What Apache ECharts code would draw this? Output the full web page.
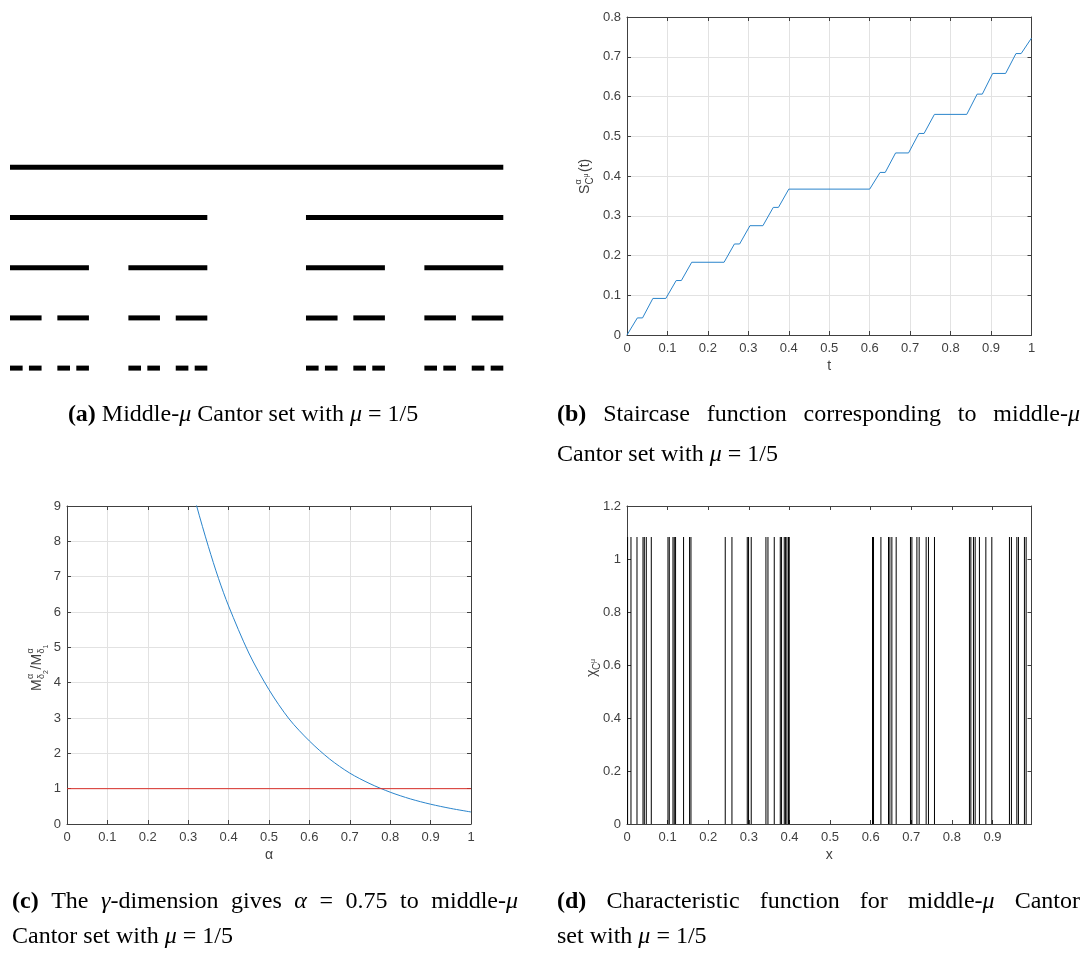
<!DOCTYPE html>
<html><head><meta charset="utf-8">
<script src="https://cdn.jsdelivr.net/npm/echarts@6/dist/echarts.min.js"></script>
<style>html,body{margin:0;padding:0;background:#fff}#c{width:1082px;height:953px}</style>
</head><body><div id="c"></div>
<script>
// ---- (a) Middle-mu Cantor set, mu = 1/5: intervals per level ----
const cantorLevel1 = [[0, 1]];
const cantorLevel2 = [[0, 0.4], [0.6, 1]];
const cantorLevel3 = [[0, 0.16], [0.24, 0.4], [0.6, 0.76], [0.84, 1]];
const cantorLevel4 = [[0, 0.064], [0.096, 0.16], [0.24, 0.304], [0.336, 0.4],
  [0.6, 0.664], [0.696, 0.76], [0.84, 0.904], [0.936, 1]];
const cantorLevel5 = [[0, 0.0256], [0.0384, 0.064], [0.096, 0.1216], [0.1344, 0.16],
  [0.24, 0.2656], [0.2784, 0.304], [0.336, 0.3616], [0.3744, 0.4],
  [0.6, 0.6256], [0.6384, 0.664], [0.696, 0.7216], [0.7344, 0.76],
  [0.84, 0.8656], [0.8784, 0.904], [0.936, 0.9616], [0.9744, 1]];
const cantorLevels = [cantorLevel1, cantorLevel2, cantorLevel3, cantorLevel4, cantorLevel5];

// ---- (b) staircase function ----
const stairT = [0, 0.0256, 0.0384, 0.064, 0.096, 0.1216, 0.1344, 0.16, 0.24, 0.2656, 0.2784, 0.304,
  0.336, 0.3616, 0.3744, 0.4, 0.6, 0.6256, 0.6384, 0.664, 0.696, 0.7216, 0.7344, 0.76,
  0.84, 0.8656, 0.8784, 0.904, 0.936, 0.9616, 0.9744, 1];
const stairS = [0, 0.043, 0.043, 0.092, 0.092, 0.137, 0.137, 0.183, 0.183, 0.229, 0.229, 0.275,
  0.275, 0.321, 0.321, 0.367, 0.367, 0.409, 0.409, 0.458, 0.458, 0.507, 0.507, 0.555,
  0.555, 0.606, 0.606, 0.658, 0.658, 0.708, 0.708, 0.747];
const stairXTicks = { min: 0, max: 1, interval: 0.1 };
const stairYTicks = { min: 0, max: 0.8, interval: 0.1 };

// ---- (c) ratio curve and reference line ----
const alphaX = [0.30, 0.321, 0.35, 0.375, 0.40, 0.45, 0.50, 0.55, 0.60, 0.65, 0.70, 0.75, 0.80, 0.85, 0.90, 0.95, 1.00];
const ratioY = [10.0, 9.0, 7.85, 6.95, 6.17, 4.84, 3.8, 2.97, 2.35, 1.84, 1.44, 1.14, 0.9, 0.71, 0.56, 0.44, 0.34];
const refLineX = [0, 1];
const refLineY = [1, 1];
const ratioXTicks = { min: 0, max: 1, interval: 0.1 };
const ratioYTicks = { min: 0, max: 9, interval: 1 };

// ---- (d) characteristic function: vertical line positions ----
const chiX = [0.0015, 0.0098, 0.0246, 0.0394, 0.0426, 0.0475, 0.0598,
  0.1009, 0.1041, 0.1132, 0.1164, 0.1196, 0.1393, 0.1541, 0.1575,
  0.2419, 0.2584, 0.2961, 0.2993, 0.3059, 0.3421, 0.3471, 0.3626, 0.3774, 0.3806,
  0.3872, 0.3905, 0.3938, 0.3977, 0.3995,
  0.6045, 0.607, 0.6252, 0.6439, 0.6473, 0.6522, 0.6628, 0.698, 0.7015, 0.7138,
  0.7194, 0.7366, 0.7423, 0.7571, 0.8432, 0.8467, 0.8531, 0.8573, 0.8678, 0.8836,
  0.8983, 0.9417, 0.9466, 0.9599, 0.9638, 0.9786, 0.9828];
const chiHeight = 1.083;
const chiXTicks = { min: 0, max: 0.996, interval: 0.1 };
const chiYTicks = { min: 0, max: 1.2, interval: 0.2 };

// ================= layout / styling =================
const AX = '#404040';
const GRIDC = '#e2e2e2';
const TICKFONT = 'Liberation Sans';
const BLUE = '#2a84cb';

function bottomAxis(g, t, grid, name, showMax) {
  return { type: 'value', gridIndex: g, position: 'bottom', min: t.min, max: t.max, interval: t.interval,
    axisLine: { show: true, onZero: false, lineStyle: { color: AX, width: 1 } },
    axisTick: { show: true, inside: true, length: 4, lineStyle: { color: AX } },
    axisLabel: { show: true, color: AX, fontSize: 13, fontFamily: TICKFONT, margin: 7, showMaxLabel: showMax },
    splitLine: { show: grid, lineStyle: { color: GRIDC, width: 1 } },
    name: name, nameLocation: 'middle', nameGap: 24,
    nameTextStyle: { color: AX, fontSize: 14, fontFamily: TICKFONT } };
}
function topAxis(g, t) {
  return { type: 'value', gridIndex: g, position: 'top', min: t.min, max: t.max, interval: t.interval,
    axisLine: { show: true, onZero: false, lineStyle: { color: AX, width: 1 } },
    axisTick: { show: true, inside: true, length: 4, lineStyle: { color: AX } },
    axisLabel: { show: false }, splitLine: { show: false } };
}
function leftAxis(g, t, grid) {
  return { type: 'value', gridIndex: g, position: 'left', min: t.min, max: t.max, interval: t.interval,
    axisLine: { show: true, onZero: false, lineStyle: { color: AX, width: 1 } },
    axisTick: { show: true, inside: true, length: 4, lineStyle: { color: AX } },
    axisLabel: { show: true, color: AX, fontSize: 13, fontFamily: TICKFONT, margin: 6 },
    splitLine: { show: grid, lineStyle: { color: GRIDC, width: 1 } } };
}
function rightAxis(g, t) {
  return { type: 'value', gridIndex: g, position: 'right', min: t.min, max: t.max, interval: t.interval,
    axisLine: { show: true, onZero: false, lineStyle: { color: AX, width: 1 } },
    axisTick: { show: true, inside: true, length: 4, lineStyle: { color: AX } },
    axisLabel: { show: false }, splitLine: { show: false } };
}

// data built from arrays
const cantorData = [];
cantorLevels.forEach((lvl, i) => lvl.forEach(seg => cantorData.push([seg[0], seg[1], i + 1])));
const stairData = stairT.map((t, i) => [t, stairS[i]]);
const ratioData = alphaX.map((a, i) => [a, ratioY[i]]);
const refData = refLineX.map((a, i) => [a, refLineY[i]]);
const chiData = chiX.map(x => [x, chiHeight]);

// ---------- captions ----------
const FS = 24;
const SERIF = 'Liberation Serif';
const mctx = document.createElement('canvas').getContext('2d');
function fontStr(r) { return (r.i ? 'italic ' : '') + (r.b ? 'bold ' : '') + FS + 'px "' + SERIF + '"'; }
function measure(r) { mctx.font = fontStr(r); return mctx.measureText(r.t).width; }
function R(t, b, i) { return { t: t, b: !!b, i: !!i }; }
function captionLine(words, x0, y, opt) {
  const ww = words.map(w => w.reduce((s, r) => s + measure(r), 0));
  const total = ww.reduce((a, b) => a + b, 0);
  let gap = measure(R(' '));
  let x = x0;
  if (opt && opt.justifyTo) gap = (opt.justifyTo - x0 - total) / (words.length - 1);
  if (opt && opt.center !== undefined) x = opt.center - (total + gap * (words.length - 1)) / 2;
  const els = [];
  words.forEach(w => {
    w.forEach(r => {
      els.push({ type: 'text', x: x, y: y, silent: true,
        style: { text: r.t, fontSize: FS, fontFamily: SERIF, fontWeight: r.b ? 'bold' : 'normal',
          fontStyle: r.i ? 'italic' : 'normal', fill: '#000', verticalAlign: 'middle', align: 'left' } });
      x += measure(r);
    });
    x += gap;
  });
  return els;
}
const mu = R('μ', false, true);
const tailWords = [[R('Cantor')], [R('set')], [R('with')], [mu], [R('=')], [R('1/5')]];
const captions = [].concat(
  captionLine([[R('(a)', true)], [R('Middle-'), mu]].concat(tailWords), 0, 415, { center: 243 }),
  captionLine([[R('(b)', true)], [R('Staircase')], [R('function')], [R('corresponding')], [R('to')], [R('middle-'), mu]], 557, 415, { justifyTo: 1080 }),
  captionLine(tailWords, 557, 455),
  captionLine([[R('(c)', true)], [R('The')], [R('γ', false, true), R('-dimension')], [R('gives')], [R('α', false, true)], [R('=')], [R('0.75')], [R('to')], [R('middle-'), mu]], 12, 902, { justifyTo: 518 }),
  captionLine(tailWords, 12, 937),
  captionLine([[R('(d)', true)], [R('Characteristic')], [R('function')], [R('for')], [R('middle-'), mu], [R('Cantor')]], 557, 902, { justifyTo: 1080 }),
  captionLine([[R('set')], [R('with')], [mu], [R('=')], [R('1/5')]], 557, 937)
);

// ---------- rotated y-axis names ----------
function T(t, x, y, fs) {
  return { type: 'text', x: x, y: y, silent: true,
    style: { text: t, fontSize: fs, fontFamily: TICKFONT, fill: AX, verticalAlign: 'middle', align: 'left' } };
}
const yNames = [
  { type: 'group', x: 585, y: 173, rotation: Math.PI / 2, children: [
    T('S', -21, 0, 14), T('α', -11.5, -6, 9), T('C', -11.5, 5, 10), T('μ', -4.5, 1.5, 7), T('(t)', 1, 0, 14) ] },
  { type: 'group', x: 37, y: 667, rotation: Math.PI / 2, children: [
    T('M', -24, 0, 14), T('α', -12, -6, 9), T('δ', -12, 5, 9), T('2', -7, 9, 7), T('/', -2.5, 0, 14),
    T('M', 1.5, 0, 14), T('α', 13.5, -6, 9), T('δ', 13.5, 5, 9), T('1', 18.5, 9, 7) ] },
  { type: 'group', x: 592, y: 668, rotation: Math.PI / 2, children: [
    T('χ', -9, 0, 14), T('C', -2, 5, 10), T('μ', 5, 1.5, 7) ] }
];

const chart = echarts.init(document.getElementById('c'), null, { renderer: 'canvas' });
chart.setOption({
  animation: false,
  backgroundColor: '#fff',
  grid: [
    { left: 10, top: 167.3, width: 493.3, height: 200.8 },
    { left: 627, top: 17, width: 404.5, height: 318 },
    { left: 67, top: 506, width: 404, height: 318 },
    { left: 627, top: 506, width: 404.5, height: 318 }
  ],
  xAxis: [
    { type: 'value', gridIndex: 0, min: 0, max: 1, show: false },
    bottomAxis(1, stairXTicks, true, 't', true), topAxis(1, stairXTicks),
    bottomAxis(2, ratioXTicks, true, 'α', true), topAxis(2, ratioXTicks),
    bottomAxis(3, chiXTicks, false, 'x', false), topAxis(3, chiXTicks)
  ],
  yAxis: [
    { type: 'value', gridIndex: 0, min: 1, max: 5, inverse: true, show: false },
    leftAxis(1, stairYTicks, true), rightAxis(1, stairYTicks),
    leftAxis(2, ratioYTicks, true), rightAxis(2, ratioYTicks),
    leftAxis(3, chiYTicks, false), rightAxis(3, chiYTicks)
  ],
  series: [
    { type: 'custom', xAxisIndex: 0, yAxisIndex: 0, data: cantorData, encode: { x: [0, 1], y: 2 },
      renderItem: function (params, api) {
        const s = api.coord([api.value(0), api.value(2)]);
        const e = api.coord([api.value(1), api.value(2)]);
        return { type: 'rect', shape: { x: s[0], y: s[1] - 2.5, width: e[0] - s[0], height: 5 },
          style: { fill: '#000' } };
      } },
    { type: 'line', xAxisIndex: 1, yAxisIndex: 1, data: stairData, showSymbol: false, symbol: 'none',
      lineStyle: { color: BLUE, width: 1 }, clip: true },
    { type: 'line', xAxisIndex: 3, yAxisIndex: 3, data: ratioData, showSymbol: false, symbol: 'none',
      smooth: 0.3, lineStyle: { color: BLUE, width: 1 }, clip: true },
    { type: 'line', xAxisIndex: 3, yAxisIndex: 3, data: refData, showSymbol: false, symbol: 'none',
      lineStyle: { color: '#d9302a', width: 1 } },
    { type: 'custom', xAxisIndex: 5, yAxisIndex: 5, data: chiData, encode: { x: 0, y: 1 },
      renderItem: function (params, api) {
        const b = api.coord([api.value(0), 0]);
        const t = api.coord([api.value(0), api.value(1)]);
        return { type: 'line', shape: { x1: b[0], y1: b[1], x2: t[0], y2: t[1] },
          style: { stroke: '#000', lineWidth: 1 } };
      } }
  ],
  graphic: captions.concat(yNames)
});
</script></body></html>
